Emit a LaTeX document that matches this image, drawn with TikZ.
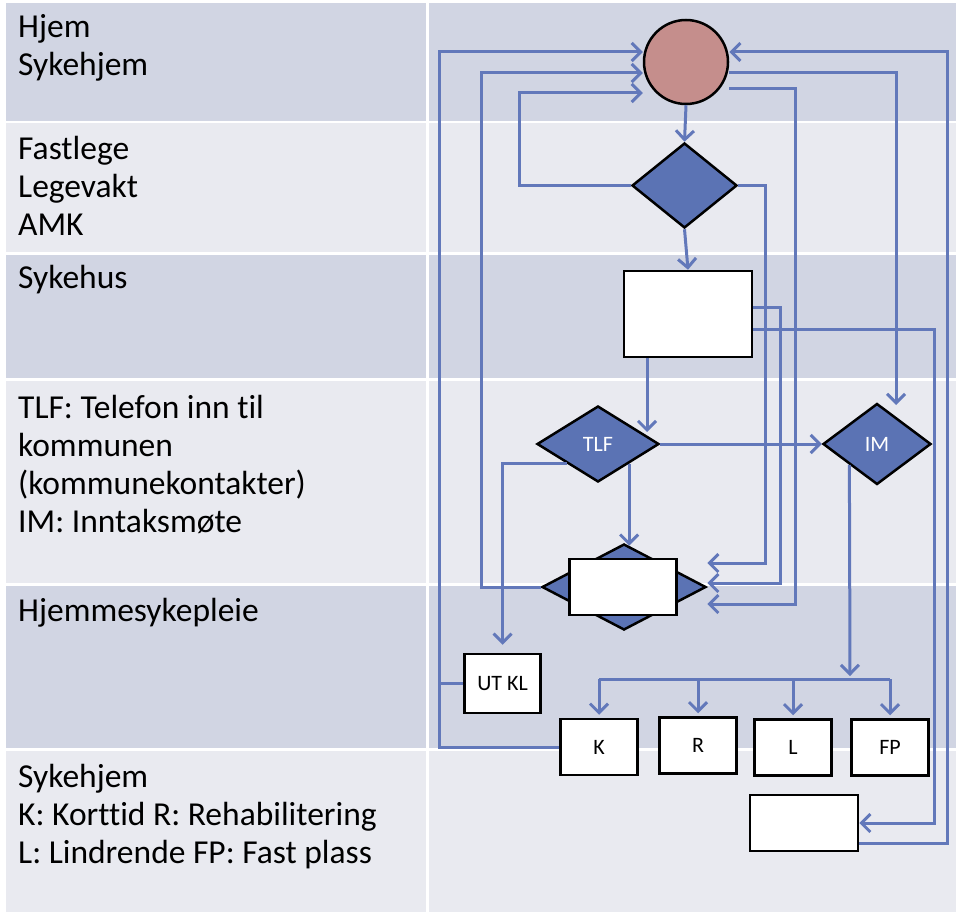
\documentclass[tikz,border=0pt]{standalone}
\usepackage{fontspec}
\setmainfont[Ligatures=NoCommon]{Carlito}
\usetikzlibrary{shapes.geometric,arrows.meta}

\definecolor{morkrad}{RGB}{209,213,227}
\definecolor{lysrad}{RGB}{233,234,240}
\definecolor{pilblaa}{RGB}{98,120,186}
\definecolor{ruteblaa}{RGB}{91,115,180}
\definecolor{sirkelrod}{RGB}{197,142,140}

\begin{document}
\begin{tikzpicture}[x=1pt, y=-1pt,
    rad/.style={font=\fontsize{33.5}{38}\selectfont, align=left, anchor=base west, inner sep=0pt},
    boks/.style={draw, line width=2.5pt, fill=white, inner sep=0pt, font=\fontsize{22}{26}\selectfont},
    beslut/.style={diamond, draw, line width=2.5pt, fill=ruteblaa, inner sep=0pt, text=white, font=\fontsize{22}{26}\selectfont},
    linje/.style={draw=pilblaa, line width=3pt},
    pil/.style={linje, -{Straight Barb[length=9pt, width=18pt]}}]

  \useasboundingbox (0,0) rectangle (960,912);
  \fill[white] (0,0) rectangle (960,912);

  % radene
  \foreach \ya/\yb/\farge in {3/121/morkrad, 123.5/252/lysrad, 255/378/morkrad,
                              381/583/lysrad, 586/748/morkrad, 751/912/lysrad} {
    \fill[\farge] (6,\ya) rectangle (426,\yb);
    \fill[\farge] (429,\ya) rectangle (956,\yb);
  }

  % tekst til venstre (ankret i siste linje)
  \node[rad] (t1) at (18,76) {Hjem\\Sykehjem};
  \node[rad] (t2) at (18,235) {Fastlege\\Legevakt\\AMK};
  \node[rad] (t3) at (18,288) {Sykehus};
  \node[rad] (t4) at (18,532) {TLF: Telefon inn til\\kommunen\\(kommunekontakter)\\IM: Inntaksmøte};
  \node[rad] (t5) at (18,621) {Hjemmesykepleie};
  \node[rad] (t6) at (18,863) {Sykehjem\\K: Korttid R: Rehabilitering\\L: Lindrende FP: Fast plass};

  % figurene
  \node[circle, draw, line width=2.5pt, fill=sirkelrod, minimum size=84pt] (hjem) at (686,62) {};
  \node[beslut, minimum width=105pt, minimum height=85pt] (d1) at (684.5,185.5) {};
  \node[boks, minimum width=128pt, minimum height=86pt] (syk) at (688,314) {};
  \node[beslut, minimum width=122pt, minimum height=76pt] (tlf) at (598,444) {TLF};
  \node[beslut, minimum width=108pt, minimum height=81pt] (im) at (877,444) {IM};
  \node[beslut, minimum width=164pt, minimum height=86pt] (hsd) at (624,587) {};
  \node[boks, minimum width=107pt, minimum height=56pt] (hsp) at (623,587) {};
  \node[boks, minimum width=76pt, minimum height=59pt] (utkl) at (502.6,683.5) {UT KL};
  \node[boks, minimum width=77pt, minimum height=56pt] (k) at (599,747) {K};
  \node[boks, minimum width=77pt, minimum height=56pt] (r) at (698,745.5) {R};
  \node[boks, minimum width=77pt, minimum height=56pt] (l) at (793,747.5) {L};
  \node[boks, minimum width=77pt, minimum height=56pt] (fp) at (890,747.5) {FP};
  \node[boks, minimum width=108pt, minimum height=56pt] (shj) at (804,823) {};

  \coordinate (tlfinn) at (647,432);
  \coordinate (iminn) at (896,405);
  \coordinate (fordel) at (850,679);

  % pilene
  \draw[pil] (hjem.south) -- (d1.north);
  \draw[pil] (d1.south) -- (syk.north);
  \draw[pil] (d1.west) -- ++(-111,0) |- ([yshift=-31pt]hjem.west);
  \draw[pil] (hsd.west) -- ++(-59.5,0) |- ([yshift=-11pt]hjem.west);
  \draw[pil] (k.west) -- ++(-119.5,0) |- ([yshift=10pt]hjem.west);
  \draw[linje] (utkl.west) -- ++(-23.6,0);
  \draw[pil] ([yshift=-20pt]shj.east) -- ++(88,0) |- ([yshift=10pt]hjem.east);
  \draw[pil] ([yshift=-11pt]hjem.east) -| (iminn);
  \draw[pil] ([yshift=-27pt]hjem.east) -- ++(66,0) |- ([yshift=-17pt]hsd.east);
  \draw[pil] (d1.east) -- ++(27.6,0) |- ([yshift=24pt]hsd.east);
  \draw[pil] ([yshift=7pt]syk.east) -- ++(27.5,0) |- ([yshift=4pt]hsd.east);
  \draw[pil] ([yshift=-15pt]syk.east) -- ++(181.6,0) |- (shj.east);
  \draw[pil] ([xshift=-41pt]syk.south) -- (tlfinn);
  \draw[pil] (tlf.east) -- (im.west);
  \draw[pil] (tlf.south east) -- ++(0,82);
  \draw[pil] (tlf.south west) -| ([yshift=8pt]utkl.north);
  \draw[pil, shorten >=3pt] (im.south west) -- (fordel);
  \draw[linje] (k.north |- fordel) -- (fp.north |- fordel);
  \foreach \n in {k,r,l,fp}
    \draw[pil, shorten >=3pt] (\n.north |- fordel) -- (\n.north);
\end{tikzpicture}
\end{document}
